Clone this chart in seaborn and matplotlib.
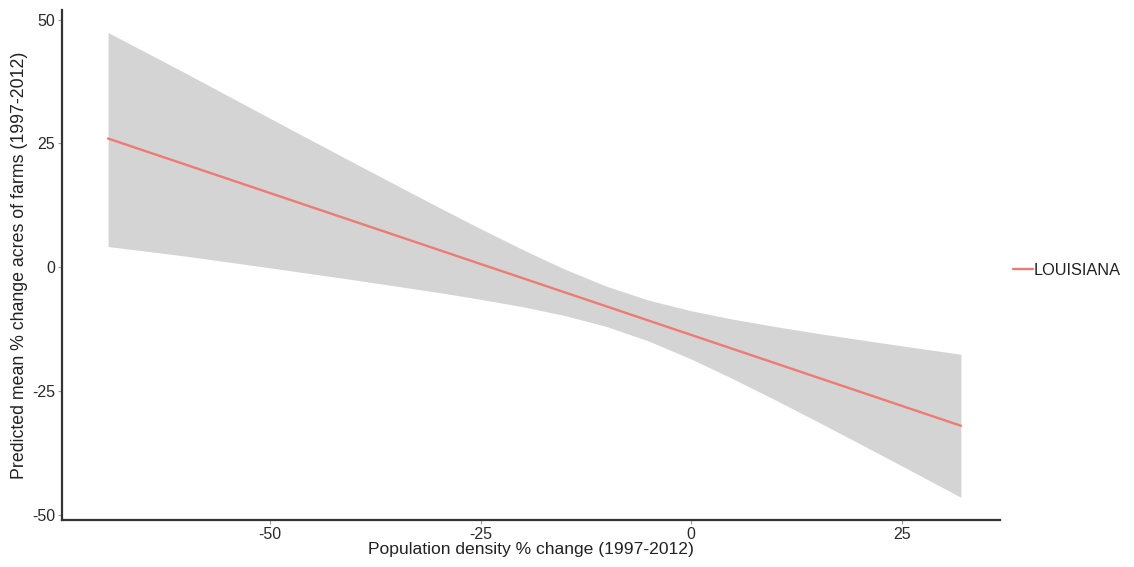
import numpy as np
import pandas as pd
import matplotlib
matplotlib.use("Agg")
import matplotlib.pyplot as plt
import seaborn as sns

# Data
x_vals = [-69.2, -60, -50, -40, -30, -25, -20, -15, -10, -5, 0, 5, 10, 15, 20, 25, 32]
pred = [26.0, 20.73, 15.0, 9.27, 3.54, 0.67, -2.19, -5.06, -7.92, -10.79, -13.65,
        -16.52, -19.38, -22.25, -25.11, -27.98, -31.99]
upper = [47.4, 39.2, 30.1, 21.07, 12.15, 7.80, 3.58, -0.38, -3.86, -6.66, -8.78,
         -10.49, -11.97, -13.33, -14.61, -15.86, -17.55]
lower = [4.2, 2.26, -0.1, -2.53, -5.07, -6.46, -7.96, -9.74, -11.98, -14.92, -18.52,
         -22.55, -26.79, -31.17, -35.61, -40.1, -46.43]
state = ["LOUISIANA"] * len(x_vals)
x_ticks = [-50, -25, 0, 25]
y_ticks = [-50, -25, 0, 25, 50]

df = pd.DataFrame({"x": x_vals, "pred": pred, "upper": upper, "lower": lower, "state": state})

sns.set_style("white")
plt.rcParams["font.family"] = ["Liberation Sans", "DejaVu Sans"]

fig = plt.figure(figsize=(11.34, 5.67), dpi=100)
ax = fig.add_axes([0.0547, 0.083, 0.8273, 0.899])

ax.fill_between(df["x"], df["lower"], df["upper"], color="#D4D4D4", linewidth=0, zorder=1)
sns.lineplot(data=df, x="x", y="pred", hue="state", palette=["#EE7B73"], linewidth=1.7, ax=ax, zorder=2)

xr = max(x_vals) - min(x_vals)
ax.set_xlim(min(x_vals) - 0.05 * xr - 0.4, max(x_vals) + 0.05 * xr - 0.4)
ax.set_ylim(-51.0, 51.9)
ax.set_xticks(x_ticks)
ax.set_yticks(y_ticks)
ax.set_xticklabels([str(v) for v in x_ticks])
ax.set_yticklabels([str(v) for v in y_ticks])

for s in ["top", "right"]:
    ax.spines[s].set_visible(False)
for s in ["left", "bottom"]:
    ax.spines[s].set_color("#333333")
    ax.spines[s].set_linewidth(1.6)

ax.tick_params(axis="both", which="major", bottom=True, left=True, length=3, width=0.8,
               color="#999999", labelsize=11.5, labelcolor="#2a2a2a", pad=2, direction="out")
ax.set_xlabel("Population density % change (1997-2012)", fontsize=12.6, color="#222222", labelpad=0)
ax.set_ylabel("Predicted mean % change acres of farms (1997-2012)", fontsize=12.8, color="#222222", labelpad=3)

handles, labels = ax.get_legend_handles_labels()
ax.legend(handles, labels, loc="center left", bbox_to_anchor=(0.998, 0.49), frameon=False,
          fontsize=11.8, handlelength=1.2, handletextpad=0.05, labelcolor="#222222")

fig.savefig("out.png", dpi=100, facecolor="white")
